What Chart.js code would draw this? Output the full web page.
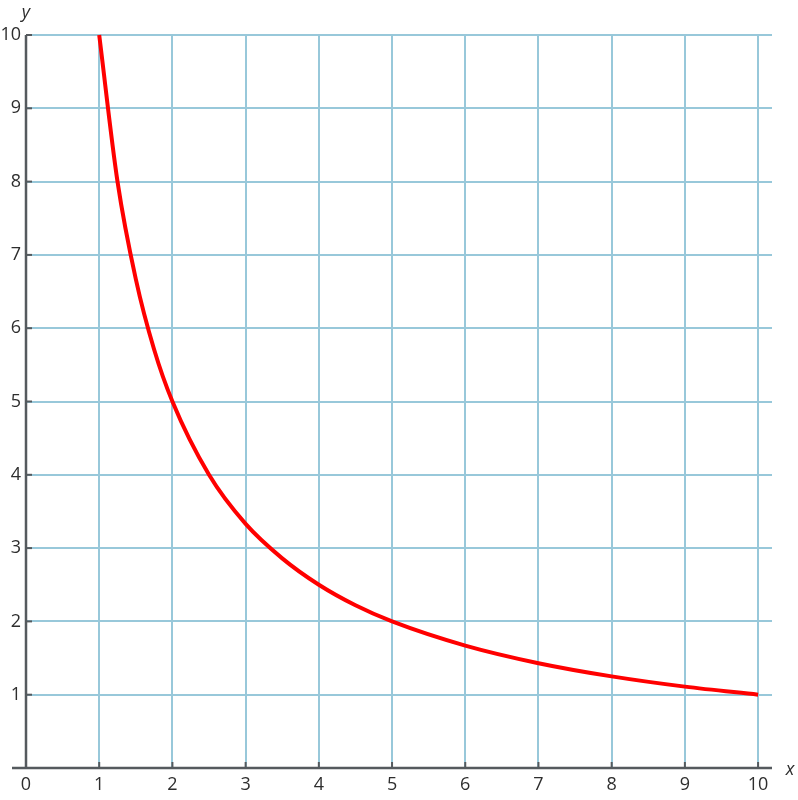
<!DOCTYPE html>
<html>
<head>
<meta charset="utf-8">
<script src="https://cdn.jsdelivr.net/npm/chart.js@4.4.1/dist/chart.umd.min.js"></script>
<style>
  html, body { margin: 0; padding: 0; background: #fff; }
  #wrap { width: 798px; height: 800px; position: relative; }
</style>
</head>
<body>
<div id="wrap"><canvas id="c" width="798" height="800"></canvas></div>
<script>
// Values
const xValues = [1, 1.25, 1.5, 1.75, 2, 2.5, 3, 3.5, 4, 4.5, 5, 6, 7, 8, 9, 10];
const yValues = [10, 8, 6.67, 5.71, 5, 4, 3.33, 2.86, 2.5, 2.22, 2, 1.67, 1.43, 1.25, 1.11, 1];
const xTicks = [0, 1, 2, 3, 4, 5, 6, 7, 8, 9, 10];
const yTicks = [1, 2, 3, 4, 5, 6, 7, 8, 9, 10];
const xTitle = 'x';
const yTitle = 'y';

const points = xValues.map((x, i) => ({ x: x, y: yValues[i] }));

const FONT = '"Open Sans", "DejaVu Sans", sans-serif';
const GRID = '#98c8da';
const AXIS = '#555a5e';
const TEXT = '#2e2e2e';

const axesPlugin = {
  id: 'axesPlugin',
  afterDraw(chart) {
    const ctx = chart.ctx;
    const xs = chart.scales.x, ys = chart.scales.y;
    const area = chart.chartArea;
    const x0 = xs.getPixelForValue(0);
    const y0 = ys.getPixelForValue(0);
    ctx.save();
    ctx.strokeStyle = AXIS;
    ctx.lineWidth = 2.5;
    ctx.beginPath();
    ctx.moveTo(x0 - 14, y0);
    ctx.lineTo(area.right, y0);
    ctx.stroke();
    ctx.beginPath();
    ctx.moveTo(x0, y0);
    ctx.lineTo(x0, area.top);
    ctx.stroke();
    ctx.lineWidth = 2;
    xTicks.forEach(v => {
      if (v === 0) return;
      const px = xs.getPixelForValue(v);
      ctx.beginPath();
      ctx.moveTo(px, y0);
      ctx.lineTo(px, y0 - 6);
      ctx.stroke();
    });
    yTicks.forEach(v => {
      const py = ys.getPixelForValue(v);
      ctx.beginPath();
      ctx.moveTo(x0, py);
      ctx.lineTo(x0 + 6, py);
      ctx.stroke();
    });
    ctx.fillStyle = TEXT;
    ctx.font = 'italic 18px ' + FONT;
    ctx.textAlign = 'center';
    ctx.textBaseline = 'middle';
    ctx.fillText(yTitle, x0, area.top - 22);
    ctx.fillText(xTitle, area.right + 18, y0 + 2);
    ctx.restore();
  }
};

new Chart(document.getElementById('c'), {
  type: 'scatter',
  data: {
    datasets: [{
      data: points,
      showLine: true,
      borderColor: '#ff0000',
      backgroundColor: '#ff0000',
      borderWidth: 4,
      pointRadius: 0,
      cubicInterpolationMode: 'monotone',
      clip: false
    }]
  },
  options: {
    responsive: false,
    animation: false,
    devicePixelRatio: 1,
    layout: { padding: { top: 35, right: 26, left: 0, bottom: 0 } },
    plugins: { legend: { display: false }, tooltip: { enabled: false } },
    scales: {
      x: {
        type: 'linear',
        min: 0,
        max: 10.19,
        afterBuildTicks: (s) => { s.ticks = xTicks.map(v => ({ value: v })); },
        afterFit: (s) => { s.height = 32; },
        border: { display: false },
        grid: {
          color: (c) => c.tick && c.tick.value === 0 ? 'rgba(0,0,0,0)' : GRID,
          lineWidth: 2,
          drawTicks: false
        },
        ticks: {
          color: TEXT,
          font: { family: FONT, size: 18 },
          padding: 6,
          maxRotation: 0,
          autoSkip: false
        }
      },
      y: {
        type: 'linear',
        min: 0,
        max: 10,
        afterBuildTicks: (s) => { s.ticks = yTicks.map(v => ({ value: v })); },
        afterFit: (s) => { s.width = 26; },
        border: { display: false },
        grid: {
          color: GRID,
          lineWidth: 2,
          drawTicks: false
        },
        ticks: {
          color: TEXT,
          font: { family: FONT, size: 18 },
          padding: 5,
          autoSkip: false
        }
      }
    }
  },
  plugins: [axesPlugin]
});
</script>
</body>
</html>
